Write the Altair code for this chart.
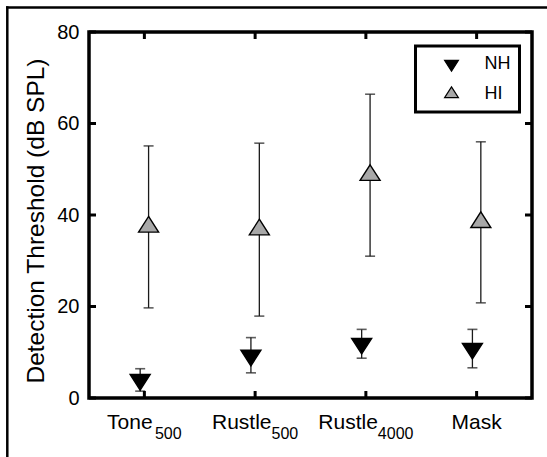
import altair as alt
import pandas as pd

# ---- data ----
categories = ["Tone", "Rustle", "Rustle", "Mask"]
subscripts = ["500", "500", "4000", ""]
groups = ["NH", "HI"]
nh_mean = [4.0, 9.3, 11.9, 10.8]
nh_lower = [1.5, 5.5, 8.7, 6.6]
nh_upper = [6.4, 13.2, 15.0, 15.0]
hi_mean = [37.4, 36.8, 48.7, 38.4]
hi_lower = [19.7, 17.9, 31.0, 20.8]
hi_upper = [55.1, 55.7, 66.4, 56.0]
y_ticks = [0, 20, 40, 60, 80]

# ---- layout ----
W, H = 443, 366
PAD_L, PAD_T = 89, 32
FIG_W, FIG_H = 547, 457
FONT = "Liberation Sans"
MAIN_FS, SUB_FS = 21, 16
PPU = W / 4.0  # pixels per x unit (domain 0.5..4.5)

rows = []
for i in range(len(categories)):
    rows.append(dict(idx=i + 1, group="NH", mean=nh_mean[i], lower=nh_lower[i], upper=nh_upper[i]))
    rows.append(dict(idx=i + 1, group="HI", mean=hi_mean[i], lower=hi_lower[i], upper=hi_upper[i]))
df = pd.DataFrame(rows)

# approximate Arial/Liberation Sans advance widths (em) to centre label+subscript
CW = {"T": .611, "o": .556, "n": .556, "e": .556, "R": .722, "u": .556, "s": .5,
      "t": .278, "l": .222, "M": .833, "a": .556, "k": .5}
for d in "0123456789":
    CW[d] = .556


def tw(s, fs):
    return sum(CW.get(c, .556) for c in s) * fs


lab_rows = []
for i, (m, s) in enumerate(zip(categories, subscripts)):
    wm, ws = tw(m, MAIN_FS), tw(s, SUB_FS)
    left = -(wm + ws) / 2.0
    lab_rows.append(dict(idx=i + 1, main=m, sub=s,
                         mx=(i + 1) + left / PPU,
                         sx=(i + 1) + (left + wm) / PPU))
labels = pd.DataFrame(lab_rows)

xscale = alt.Scale(domain=[0.5, 4.5], nice=False, zero=False)
yscale = alt.Scale(domain=[0, 80], nice=False, zero=False)

up_path = "M0,-1.04L1,0.52L-1,0.52Z"
down_path = "M0,1.04L1,-0.52L-1,-0.52Z"

base = alt.Chart(df).transform_calculate(
    xpos="datum.idx + (datum.group == 'NH' ? -0.038 : 0.038)"
)

TITLE = "Detection Threshold (dB SPL)"
yaxis = alt.Axis(values=y_ticks, ticks=False, domain=False, grid=False,
                 labelFontSize=20, labelPadding=10, labelColor="black",
                 labelFont=FONT,
                 title=TITLE, titleFontSize=24.5,
                 titleFont=FONT, titleFontWeight="normal", titleColor="black",
                 titleAngle=-90, titleAlign="center", titleBaseline="middle",
                 titleX=-53, titleY=188.5)


def Y(field):
    return alt.Y(field, scale=yscale, axis=yaxis, title=TITLE)


err = base.mark_rule(color="#1a1a1a", strokeWidth=1.3).encode(
    x=alt.X("xpos:Q", scale=xscale, axis=None),
    y=Y("lower:Q"),
    y2="upper:Q",
)
cap_lo = base.mark_tick(orient="horizontal", size=10, thickness=1.6, color="#1a1a1a").encode(
    x=alt.X("xpos:Q", scale=xscale, axis=None),
    y=Y("lower:Q"),
)
cap_hi = base.mark_tick(orient="horizontal", size=10, thickness=1.6, color="#1a1a1a").encode(
    x=alt.X("xpos:Q", scale=xscale, axis=None),
    y=Y("upper:Q"),
)

leg = alt.Legend(title=None, orient="none", legendX=326.5, legendY=14,
                 symbolSize=190, symbolOffset=18, labelOffset=24,
                 labelFontSize=18, labelFont=FONT, labelColor="black",
                 padding=9, rowPadding=10, strokeColor="black",
                 symbolStrokeColor="black", symbolStrokeWidth=1.2)

pts = base.mark_point(filled=True, size=400, strokeWidth=1.4, opacity=1).encode(
    x=alt.X("xpos:Q", scale=xscale, axis=None),
    y=Y("mean:Q"),
    shape=alt.Shape("group:N", scale=alt.Scale(domain=groups, range=[down_path, up_path]), legend=leg),
    fill=alt.Fill("group:N", scale=alt.Scale(domain=groups, range=["black", "#a8a8a8"]), legend=leg),
    stroke=alt.Stroke("group:N", scale=alt.Scale(domain=groups, range=["black", "black"]), legend=leg),
)

# inward ticks on all four sides
ytick_df = pd.DataFrame({"v": y_ticks})
xtick_df = pd.DataFrame({"idx": list(range(1, len(categories) + 1))})
TL = 7
ytl = alt.Chart(ytick_df).mark_rule(color="black", strokeWidth=3).encode(
    y=Y("v:Q"), x=alt.value(0), x2=alt.value(TL))
ytr = alt.Chart(ytick_df).mark_rule(color="black", strokeWidth=3).encode(
    y=Y("v:Q"), x=alt.value(W - TL), x2=alt.value(W))
xtb = alt.Chart(xtick_df).mark_rule(color="black", strokeWidth=3).encode(
    x=alt.X("idx:Q", scale=xscale, axis=None), y=alt.value(H - TL), y2=alt.value(H))
xtt = alt.Chart(xtick_df).mark_rule(color="black", strokeWidth=3).encode(
    x=alt.X("idx:Q", scale=xscale, axis=None), y=alt.value(0), y2=alt.value(TL))

# category labels with subscripts
main_txt = alt.Chart(labels).mark_text(align="left", baseline="alphabetic", font=FONT,
                                       fontSize=MAIN_FS, color="black").encode(
    x=alt.X("mx:Q", scale=xscale, axis=None), y=alt.value(H + 30.5), text="main:N")
sub_txt = alt.Chart(labels).mark_text(align="left", baseline="alphabetic", font=FONT,
                                      fontSize=SUB_FS, color="black").encode(
    x=alt.X("sx:Q", scale=xscale, axis=None), y=alt.value(H + 40.5), text="sub:N")

# figure border (left and top edges)
one = pd.DataFrame({"k": [0]})
bx, by = 7.3 - PAD_L, 7.5 - PAD_T
border_l = alt.Chart(one).mark_rule(color="black", strokeWidth=2.5).encode(
    x=alt.value(bx), y=alt.value(by - 1.25), y2=alt.value(FIG_H - PAD_T))
border_t = alt.Chart(one).mark_rule(color="black", strokeWidth=2.5).encode(
    x=alt.value(bx - 1.25), x2=alt.value(FIG_W - PAD_L), y=alt.value(by))

chart = alt.layer(
    border_l, border_t, err, cap_lo, cap_hi, ytl, ytr, xtb, xtt, pts, main_txt, sub_txt
).properties(
    width=W, height=H,
    autosize=alt.AutoSizeParams(type="none"),
    padding={"left": PAD_L, "top": PAD_T, "right": FIG_W - PAD_L - W, "bottom": FIG_H - PAD_T - H},
    background="white",
).configure_view(
    stroke="black", strokeWidth=3.5
).configure_legend(
    strokeWidth=3
)

chart.save("out.html", embed_options={"renderer": "svg", "actions": False})
